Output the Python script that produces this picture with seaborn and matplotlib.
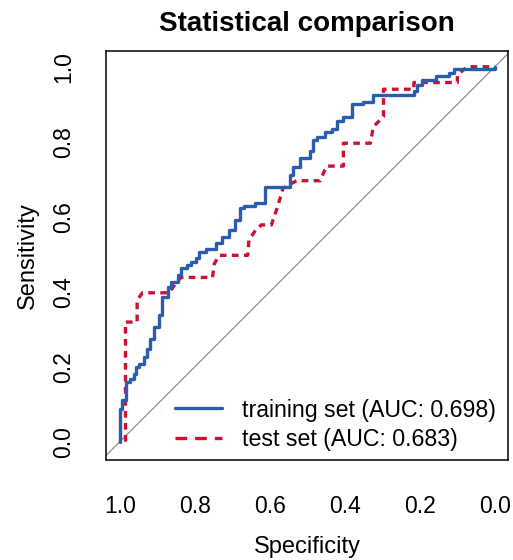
import numpy as np
import pandas as pd
import matplotlib
matplotlib.use("Agg")
import matplotlib.pyplot as plt
from matplotlib.lines import Line2D
import seaborn as sns

# ROC curve vertices (specificity, sensitivity)
train_spec = [1.000, 1.000, 0.995, 0.985, 0.973, 0.962, 0.958, 0.949, 0.936, 0.927,
              0.920, 0.909, 0.895, 0.887, 0.873, 0.864, 0.846, 0.837, 0.820, 0.810,
              0.797, 0.788, 0.770, 0.743, 0.727, 0.708, 0.694, 0.681, 0.668, 0.641,
              0.614, 0.601, 0.547, 0.547, 0.539, 0.520, 0.493, 0.485, 0.475, 0.453,
              0.435, 0.422, 0.406, 0.381, 0.353, 0.324, 0.297, 0.216, 0.207, 0.194,
              0.158, 0.123, 0.109, 0.073, 0.000, 0.000]
train_sens = [0.000, 0.052, 0.087, 0.110, 0.159, 0.168, 0.181, 0.199, 0.208, 0.227,
              0.248, 0.275, 0.306, 0.337, 0.386, 0.413, 0.426, 0.444, 0.462, 0.471,
              0.479, 0.489, 0.506, 0.515, 0.530, 0.545, 0.564, 0.591, 0.622, 0.628,
              0.636, 0.678, 0.678, 0.693, 0.711, 0.733, 0.756, 0.774, 0.805, 0.812,
              0.827, 0.833, 0.854, 0.867, 0.901, 0.907, 0.925, 0.925, 0.934, 0.952,
              0.965, 0.974, 0.983, 0.994, 0.994, 1.000]

test_spec = [0.985, 0.985, 0.954, 0.954, 0.940, 0.869, 0.851, 0.837, 0.753, 0.748,
             0.735, 0.659, 0.656, 0.641, 0.623, 0.596, 0.578, 0.565, 0.529, 0.466,
             0.449, 0.404, 0.404, 0.332, 0.324, 0.297, 0.297, 0.216, 0.216, 0.100,
             0.100, 0.073, 0.000]
test_sens = [0.000, 0.319, 0.319, 0.377, 0.397, 0.397, 0.422, 0.438, 0.438, 0.475,
             0.497, 0.497, 0.537, 0.560, 0.578, 0.578, 0.631, 0.676, 0.696, 0.696,
             0.735, 0.735, 0.796, 0.796, 0.840, 0.867, 0.940, 0.940, 0.958, 0.958,
             0.979, 1.000, 1.000]

labels = ["training set (AUC: 0.698)", "test set (AUC: 0.683)"]
blue = "#2B5DAF"
red = "#CC1133"

sns.set_style("white")
plt.rcParams["font.family"] = ["Liberation Sans", "DejaVu Sans"]
plt.rcParams["text.color"] = "black"
plt.rcParams["axes.labelcolor"] = "black"

fig = plt.figure(figsize=(5.13, 5.60), dpi=100)
ax = fig.add_axes([106 / 513, 1 - 460 / 560, 402 / 513, 409 / 560])

# chance line
ax.plot([1.1, -0.1], [-0.1, 1.1], color="#999999", lw=1.0, zorder=1)

train = pd.DataFrame({"spec": train_spec, "sens": train_sens})
test = pd.DataFrame({"spec": test_spec, "sens": test_sens})
sns.lineplot(data=train, x="spec", y="sens", sort=False, estimator=None,
             color=blue, lw=2.4, ax=ax, zorder=3, drawstyle="steps-pre")
sns.lineplot(data=test, x="spec", y="sens", sort=False, estimator=None,
             color=red, lw=2.4, ax=ax, zorder=2)
ax.lines[-1].set_dashes([2.0, 1.6])

ax.set_xlim(1.037, -0.035)
ax.set_ylim(-0.049, 1.042)
ax.set_xticks([1.0, 0.8, 0.6, 0.4, 0.2, 0.0])
ax.set_yticks([0.0, 0.2, 0.4, 0.6, 0.8, 1.0])
ax.set_xticklabels(["1.0", "0.8", "0.6", "0.4", "0.2", "0.0"])
ax.set_yticklabels(["0.0", "0.2", "0.4", "0.6", "0.8", "1.0"])
ax.tick_params(axis="both", direction="out", length=9.5, width=1.0,
               labelsize=16.5, color="black", labelcolor="black")
ax.tick_params(axis="x", pad=15.5)
ax.tick_params(axis="y", pad=12.5)
plt.setp(ax.get_yticklabels(), rotation=90, va="center")
for s in ax.spines.values():
    s.set_color("black")
    s.set_linewidth(1.1)

ax.set_xlabel("Specificity", fontsize=17, labelpad=13)
ax.set_ylabel("Sensitivity", fontsize=17, labelpad=10)
fig.text(307 / 513, 1 - 24 / 560, "Statistical comparison", fontsize=20,
         fontweight="bold", ha="center", va="center")

handles = [Line2D([], [], color=blue, lw=2.4),
           Line2D([], [], color=red, lw=2.4, dashes=[3.5, 2.4])]
ax.legend(handles, labels, loc="lower left", bbox_to_anchor=(0.172, 0.022),
          frameon=False, fontsize=16.7, handlelength=2.0, handletextpad=0.9,
          labelspacing=0.28, borderpad=0, borderaxespad=0)

fig.savefig("out.png", dpi=100)
